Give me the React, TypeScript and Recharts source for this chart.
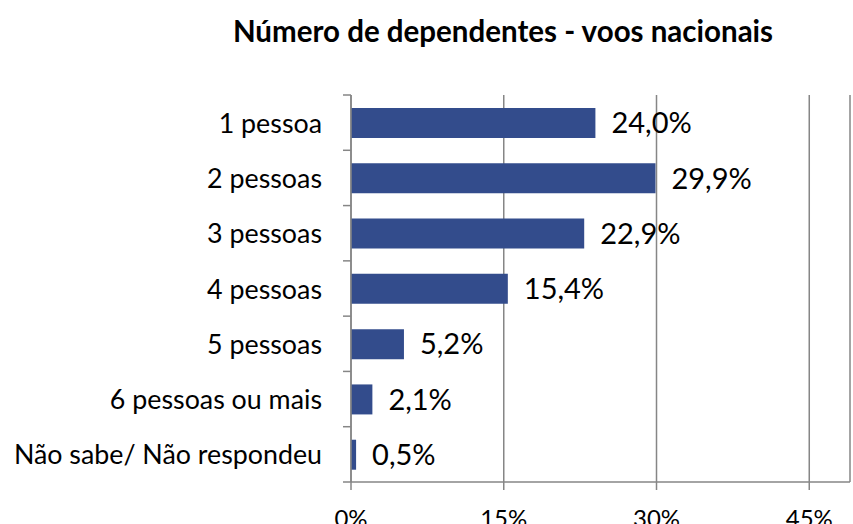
import React from "react";
import { BarChart, Bar, CartesianGrid, XAxis, YAxis, LabelList } from "recharts";

const categories = [
  "1 pessoa",
  "2 pessoas",
  "3 pessoas",
  "4 pessoas",
  "5 pessoas",
  "6 pessoas ou mais",
  "Não sabe/ Não respondeu",
];
const shares = [24.0, 29.9, 22.9, 15.4, 5.2, 2.1, 0.5];
const xTicks = [0, 15, 30, 45];

const data = categories.map((name, i) => ({ name, value: shares[i] }));

const W = 853;
const H = 524;
const margin = { top: 95, right: 3, bottom: 0, left: 0 };
const yAxisWidth = 351;
const xAxisHeight = 42;
const plotH = H - margin.top - margin.bottom - xAxisHeight;
const band = plotH / categories.length;
const font = "Lato, 'Open Sans', sans-serif";
const grey = "#868686";

const fmt = (v: number) => v.toFixed(1).replace(".", ",") + "%";

function YTick(props: any) {
  const { x, y, payload, index } = props;
  const last = index === categories.length - 1;
  return (
    <g>
      <text x={x - 29} y={y} textAnchor="end" dominantBaseline="central" fontSize={26.8} fill="#000" fontFamily={font}>
        {payload.value}
      </text>
      <line x1={x - 8} x2={x} y1={y - band / 2} y2={y - band / 2} stroke={grey} strokeWidth={1.5} />
      {last && <line x1={x - 8} x2={x} y1={y + band / 2} y2={y + band / 2} stroke={grey} strokeWidth={1.5} />}
    </g>
  );
}

function XTick(props: any) {
  const { x, y, payload } = props;
  return (
    <g>
      <line x1={x} x2={x} y1={y} y2={y + 8} stroke={grey} strokeWidth={1.5} />
      <text x={x} y={y + 35} textAnchor="middle" dominantBaseline="central" fontSize={24} fill="#000" fontFamily={font}>
        {payload.value + "%"}
      </text>
    </g>
  );
}

export default function App() {
  return (
    <div style={{ position: "absolute", left: 0, top: 0, width: W, height: H, background: "#fff", overflow: "hidden" }}>
      <div
        style={{
          position: "absolute",
          left: 0,
          width: 1006,
          top: 13,
          lineHeight: "36px",
          textAlign: "center",
          fontFamily: font,
          fontWeight: 700,
          fontSize: 29.5,
          color: "#000",
        }}
      >
        Número de dependentes - voos nacionais
      </div>
      <BarChart width={W} height={H} data={data} layout="vertical" margin={margin} barSize={30}>
        <CartesianGrid horizontal={false} stroke={grey} strokeWidth={1.5} />
        <XAxis
          type="number"
          domain={[0, 49]}
          ticks={xTicks}
          height={xAxisHeight}
          axisLine={{ stroke: grey, strokeWidth: 1.5 }}
          tickLine={false}
          tickSize={0}
          tickMargin={0}
          tick={<XTick />}
        />
        <YAxis
          type="category"
          dataKey="name"
          width={yAxisWidth}
          axisLine={{ stroke: grey, strokeWidth: 1.5 }}
          tickLine={false}
          tickSize={0}
          tickMargin={0}
          interval={0}
          tick={<YTick />}
        />
        <Bar dataKey="value" fill="#334c8c" isAnimationActive={false}>
          <LabelList
            dataKey="value"
            position="right"
            offset={16}
            formatter={(v: any) => fmt(Number(v))}
            style={{ fontSize: 29, fill: "#000", fontFamily: font }}
          />
        </Bar>
      </BarChart>
    </div>
  );
}
